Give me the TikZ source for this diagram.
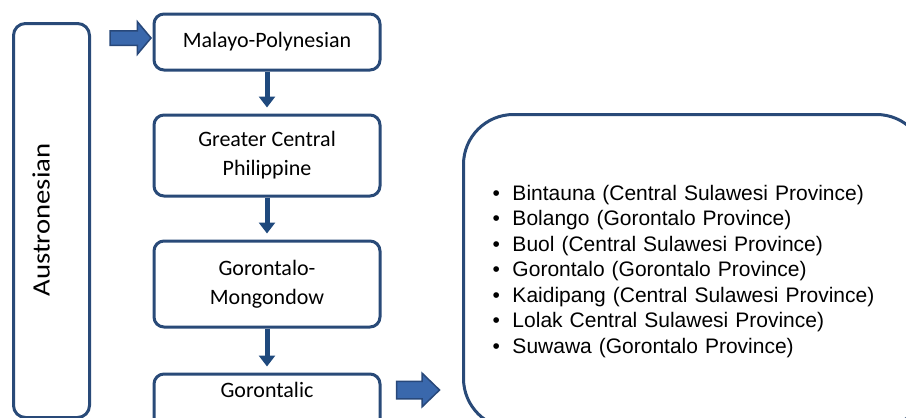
\documentclass[tikz,border=0pt]{standalone}
\usepackage{fontspec}
\setmainfont{Carlito}
\newfontfamily\listfont{Liberation Sans}
\usetikzlibrary{positioning,shapes.arrows,arrows.meta}
\definecolor{boxline}{RGB}{41,74,120}
\definecolor{arrowfill}{RGB}{58,104,172}
\definecolor{arrowline}{RGB}{40,72,122}
\definecolor{downline}{RGB}{31,73,125}
\newcommand{\langitem}[2]{\makebox[20pt][l]{\textbullet}#1 #2\par}

\begin{document}
\begin{tikzpicture}[x=1pt,y=-1pt,node distance=42pt,
        box/.style={draw=boxline,line width=3pt,rounded corners=10pt,fill=white,
            minimum width=226pt,inner sep=4pt,align=center,
            font=\fontsize{22}{29}\selectfont},
        blockarrow/.style={single arrow,draw=arrowline,fill=arrowfill,line width=1.5pt,
            inner xsep=0pt,single arrow head indent=0pt},
        down/.style={draw=downline,line width=5pt,shorten >=6pt,
            -{Triangle[width=16pt,length=11pt]}}]
        \clip (0,0) rectangle (906,418);
        \node[box,rounded corners=12pt,minimum width=76pt,minimum height=394pt,
            anchor=north west] (austro) at (12,22) {};
        \node[rotate=90,xscale=1.15,font=\fontsize{25}{30}\selectfont] (austroname) at (41,220) {Austronesian};
        \node[box,minimum height=56pt] (mp) at (267,42) {Malayo-Polynesian};
        \node[box,minimum height=81pt,below=of mp] (gcp) {Greater Central\\Philippine};
        \node[box,minimum height=86pt,below=of gcp] (gm) {Gorontalo-\\Mongondow};
        \node[box,text height=10pt,text depth=40pt,inner ysep=13pt,below=44pt of gm] (gor) {Gorontalic};
        \node[box,rounded corners=50pt,minimum width=463pt,minimum height=314pt,
            anchor=north west,inner xsep=29pt,text width=405pt,align=left,
            font=\listfont\fontsize{21}{25.5}\selectfont] (langs) at (462,113) {%
            \langitem{Bintauna}{(Central Sulawesi Province)}%
            \langitem{Bolango}{(Gorontalo Province)}%
            \langitem{Buol}{(Central Sulawesi Province)}%
            \langitem{Gorontalo}{(Gorontalo Province)}%
            \langitem{Kaidipang}{(Central Sulawesi Province)}%
            \langitem{Lolak}{Central Sulawesi Province)}%
            \langitem{Suwawa}{(Gorontalo Province)}};
        \node[blockarrow,minimum height=41pt,inner ysep=6.5pt,single arrow head extend=9pt,
            single arrow tip angle=100] (arrowin) at (127.5,38) {};
        \node[blockarrow,minimum height=43pt,inner ysep=8pt,single arrow head extend=8pt,
            single arrow tip angle=88] (arrowout) at (413.5,390) {};
        \draw[down] (mp) -- (gcp);
        \draw[down] (gcp) -- (gm);
        \draw[down] (gm) -- (gor);
\end{tikzpicture}
\end{document}
